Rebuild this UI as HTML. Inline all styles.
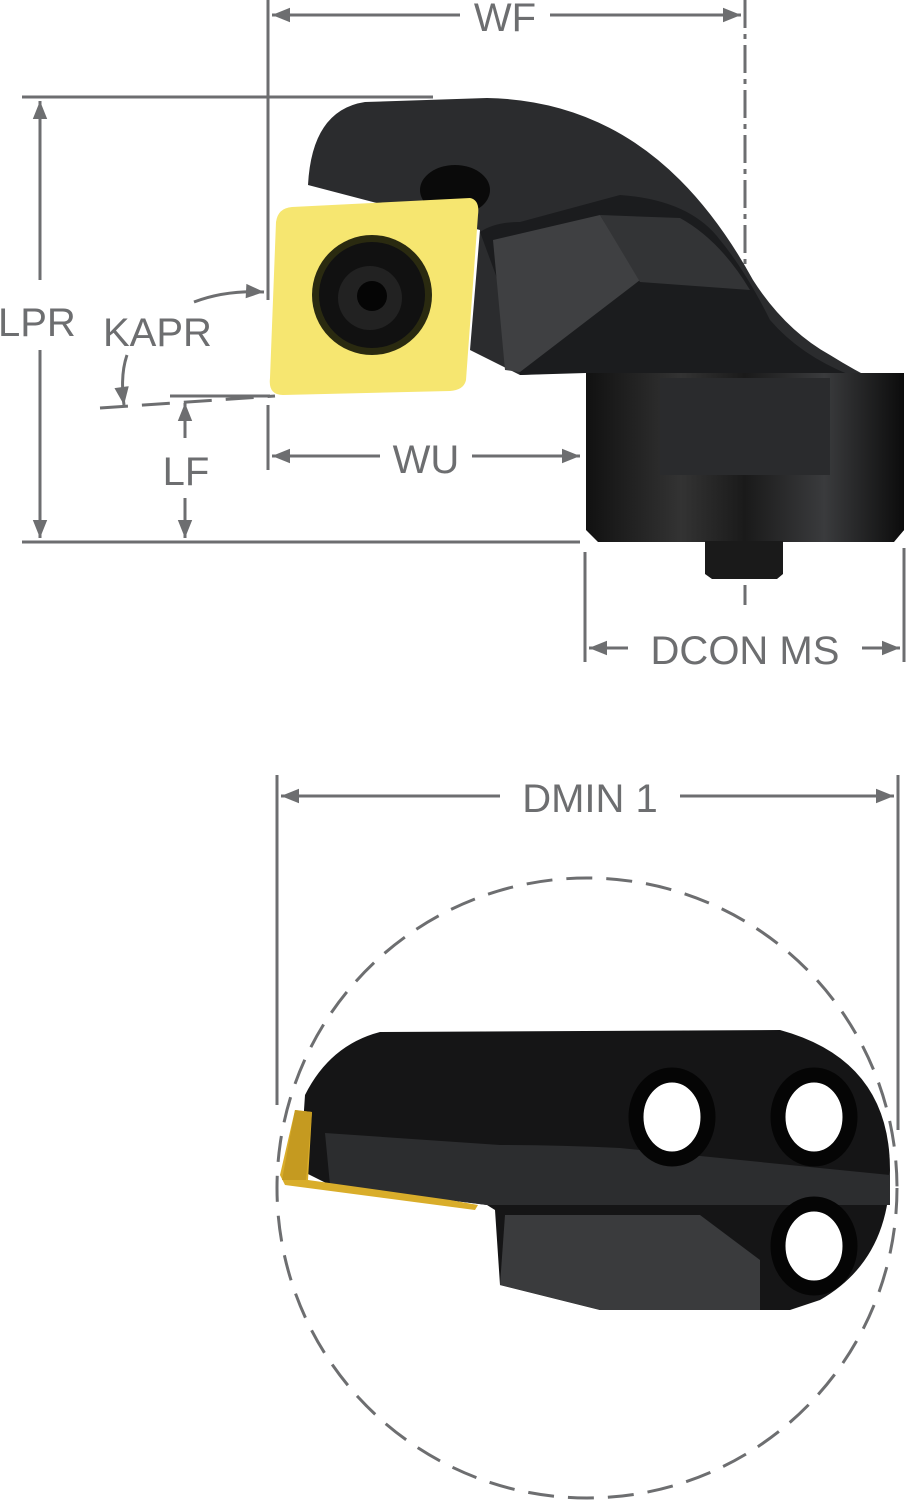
<!DOCTYPE html>
<html><head><meta charset="utf-8"><style>
html,body{margin:0;padding:0;background:#fff}
svg{display:block}
text{font-family:"Liberation Sans",sans-serif;fill:#6d6e70}
</style></head><body>
<svg width="907" height="1500" viewBox="0 0 907 1500" xmlns="http://www.w3.org/2000/svg">
<defs>
<marker id="a" viewBox="0 0 10 10" refX="10" refY="5" markerWidth="8" markerHeight="6" orient="auto-start-reverse"><path d="M0,1 L10,5 L0,9 z" fill="#6d6e70"/></marker>
<linearGradient id="blk" x1="0" x2="1"><stop offset="0" stop-color="#111"/><stop offset="0.3" stop-color="#333"/><stop offset="0.5" stop-color="#1a1a1a"/><stop offset="0.75" stop-color="#3a3b3d"/><stop offset="1" stop-color="#0c0c0c"/></linearGradient>
</defs>
<g stroke="#6d6e70" stroke-width="3" fill="none">
<line x1="268" y1="0" x2="268" y2="300"/>
<line x1="268" y1="405" x2="268" y2="470"/>
<line x1="272" y1="15" x2="460" y2="15" marker-start="url(#a)"/>
<line x1="550" y1="15" x2="741" y2="15" marker-end="url(#a)"/>
<line x1="745" y1="0" x2="745" y2="605" stroke-dasharray="28,6,5,6"/>
<line x1="22" y1="97" x2="433" y2="97"/>
<line x1="22" y1="542" x2="580" y2="542"/>
<line x1="40" y1="101" x2="40" y2="280" marker-start="url(#a)"/>
<line x1="40" y1="350" x2="40" y2="538" marker-end="url(#a)"/>
<path d="M194,302 Q225,290 264,292" marker-end="url(#a)"/>
<path d="M127,355 Q120,375 124,405" marker-end="url(#a)"/>
<path d="M100,408 L275,396" stroke-dasharray="28,14"/>
<line x1="170" y1="396" x2="270" y2="396"/>
<line x1="185" y1="403" x2="185" y2="438" marker-start="url(#a)"/>
<line x1="185" y1="498" x2="185" y2="538" marker-end="url(#a)"/>
<line x1="272" y1="456" x2="380" y2="456" marker-start="url(#a)"/>
<line x1="472" y1="456" x2="580" y2="456" marker-end="url(#a)"/>
<line x1="585" y1="552" x2="585" y2="662"/>
<line x1="904" y1="548" x2="904" y2="662"/>
<line x1="589" y1="648" x2="628" y2="648" marker-start="url(#a)"/>
<line x1="862" y1="648" x2="900" y2="648" marker-end="url(#a)"/>
<line x1="277" y1="775" x2="277" y2="1105"/>
<line x1="898" y1="775" x2="898" y2="1130"/>
<line x1="281" y1="796" x2="500" y2="796" marker-start="url(#a)"/>
<line x1="680" y1="796" x2="894" y2="796" marker-end="url(#a)"/>
<circle cx="587" cy="1188" r="310" stroke-dasharray="26,14"/>
</g>
<g font-size="40">
<text x="505" y="31" text-anchor="middle">WF</text>
<text x="-2" y="336">LPR</text>
<text x="103" y="346">KAPR</text>
<text x="186" y="485" text-anchor="middle">LF</text>
<text x="426" y="473" text-anchor="middle">WU</text>
<text x="745" y="664" text-anchor="middle">DCON MS</text>
<text x="590" y="812" text-anchor="middle">DMIN 1</text>
</g>
<path d="M308,185 Q312,110 365,102 L487,98 Q600,100 680,180 Q720,220 753,280 Q785,330 830,355 Q870,380 904,393 L904,530 L895,540 L598,540 L586,528 L586,372 L520,375 L470,350 L480,230 Z" fill="#2b2c2e"/>
<path d="M480,232 Q495,222 520,222 L620,195 Q690,200 720,240 Q745,270 770,320 Q800,355 850,375 Q880,385 904,393 L904,530 L895,540 L598,540 L586,528 L586,373 L520,375 L505,300 Z" fill="#1b1c1e"/>
<path d="M493,240 L600,215 L640,280 L520,372 L505,370 Z" fill="#3f4042"/>
<path d="M600,215 L680,218 Q720,240 750,290 L640,282 Z" fill="#333436"/>
<path d="M586,373 L904,373 L904,530 L894,542 L598,542 L586,530 Z" fill="url(#blk)"/>
<rect x="660" y="378" width="170" height="97" fill="#2a2b2d"/>
<path d="M705,541 L783,541 L783,574 L777,579 L712,579 L705,574 Z" fill="#1a1a1a"/>
<ellipse cx="455" cy="190" rx="35" ry="25" fill="#0a0a0a"/>
<path d="M292,207 L470,198 Q480,200 478,215 L466,380 Q464,390 450,391 L283,395 Q268,395 270,378 L276,222 Q278,208 292,207 Z" fill="#f6e670"/>
<circle cx="372" cy="295" r="60" fill="#2a2a10"/>
<circle cx="372" cy="295" r="53" fill="#111"/>
<circle cx="370" cy="298" r="32" fill="#222"/>
<circle cx="372" cy="296" r="15" fill="#050505"/>
<path d="M305,1095 Q330,1045 380,1032 L780,1030 Q890,1060 890,1170 Q890,1260 820,1300 L790,1310 L600,1310 L500,1285 L495,1210 L487,1205 L330,1185 L300,1170 Z" fill="#151516"/>
<path d="M325,1133 L500,1145 Q560,1145 620,1148 L890,1175 L890,1205 L540,1205 L487,1205 L330,1185 Z" fill="#2c2d2f"/>
<path d="M505,1215 L700,1215 L760,1260 L760,1310 L600,1310 L500,1285 Z" fill="#3a3b3d"/>
<path d="M295,1110 L312,1112 L308,1180 L450,1200 L478,1205 L475,1210 L285,1185 L280,1175 Z" fill="#d9ad2a"/>
<path d="M295,1110 L312,1112 L306,1180 L282,1180 Z" fill="#c59a20"/>
<g fill="#fff" stroke="#050505" stroke-width="15">
<ellipse cx="672" cy="1117" rx="36" ry="42"/>
<ellipse cx="814" cy="1117" rx="36" ry="42"/>
<ellipse cx="814" cy="1246" rx="36" ry="42"/>
</g>
</svg>
</body></html>
